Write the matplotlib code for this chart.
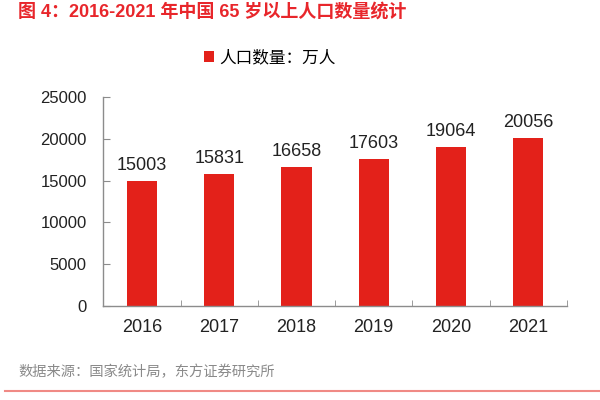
import matplotlib
matplotlib.use('Agg')
import matplotlib.pyplot as plt
from matplotlib.lines import Line2D
import numpy as np

plt.rcParams['font.family'] = ['Liberation Sans', 'Noto Sans CJK SC', 'DejaVu Sans']

# donnees
annees = ['2016', '2017', '2018', '2019', '2020', '2021']
population = [15003, 15831, 16658, 17603, 19064, 20056]
yticks = [0, 5000, 10000, 15000, 20000, 25000]

titre = '图 4：2016-2021 年中国 65 岁以上人口数量统计'
legende = '人口数量：万人'
source = '数据来源：国家统计局，东方证券研究所'

rouge = '#E3211A'
gris = '#8C8C8C'

fig = plt.figure(figsize=(6, 4), dpi=100)
ax = fig.add_axes([0.172, 0.235, 0.773, 0.5225])

x = np.arange(len(annees))
bars = ax.bar(x, population, width=0.39, color=rouge, label=legende)
for xi, v in zip(x, population):
    ax.annotate(str(v), (xi, v), xytext=(0, 5), textcoords='offset points',
                ha='center', va='bottom', fontsize=13, color='#222222')

ax.set_xlim(-0.5, len(annees) - 0.5)
ax.set_ylim(0, 25000)
ax.set_yticks(yticks)
ax.set_yticklabels([str(t) for t in yticks])
ax.set_xticks(x)
ax.set_xticklabels(annees)
ax.set_xticks(np.arange(len(annees) + 1) - 0.5, minor=True)

for s in ['top', 'right']:
    ax.spines[s].set_visible(False)
for s in ['left', 'bottom']:
    ax.spines[s].set_color(gris)
    ax.spines[s].set_linewidth(1)

ax.tick_params(axis='y', direction='in', length=5, color=gris, labelsize=12,
               labelcolor='#222222', pad=12)
ax.tick_params(axis='x', which='major', length=0, labelsize=13,
               labelcolor='#222222', pad=9)
ax.tick_params(axis='x', which='minor', direction='in', length=4, color=gris)

ax.legend(loc='lower center', bbox_to_anchor=(0.36, 1.12), frameon=False,
          fontsize=12, handlelength=0.6, handleheight=0.6, handletextpad=0.3,
          borderaxespad=0)

fig.text(0.03, 0.97, titre, fontsize=13, color='#E8262B', fontweight='bold',
         ha='left', va='center')
fig.text(0.03, 0.07, source, fontsize=10.3, color='#8A8A8A', ha='left', va='center')
fig.add_artist(Line2D([0.008, 1.0], [0.022, 0.022], color='#F08A85', linewidth=1.5,
                      transform=fig.transFigure))

fig.savefig('out.png', dpi=100)
